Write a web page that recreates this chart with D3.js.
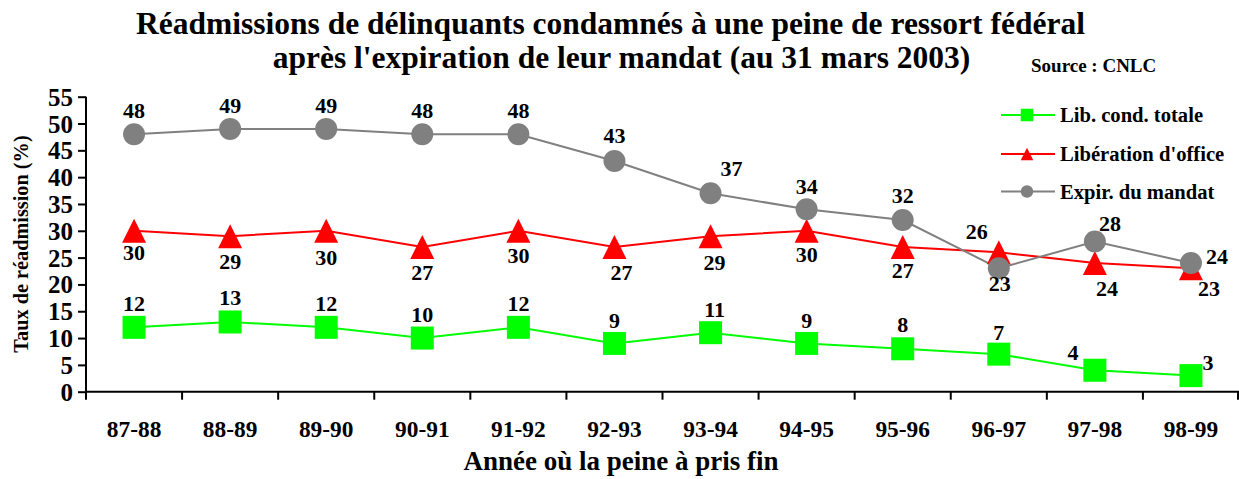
<!DOCTYPE html>
<html>
<head>
<meta charset="utf-8">
<script src="https://cdn.jsdelivr.net/npm/d3@7"></script>
<style>
  html, body { margin: 0; padding: 0; background: #fff; }
  svg { display: block; }
  text { font-family: "Liberation Serif", "Times New Roman", serif; font-weight: bold; fill: #000; }
</style>
</head>
<body>
<svg id="chart" width="1239" height="479"></svg>
<script>
// Fiscal years in which the sentence ended
const categories = ["87-88", "88-89", "89-90", "90-91", "91-92", "92-93", "93-94", "94-95", "95-96", "96-97", "97-98", "98-99"];

// Readmission rates (%) by release type
const libCond   = [12, 13, 12, 10, 12, 9, 11, 9, 8, 7, 4, 3];
const libOffice = [30, 29, 30, 27, 30, 27, 29, 30, 27, 26, 24, 23];
const expir     = [48, 49, 49, 48, 48, 43, 37, 34, 32, 23, 28, 24];

const yTicks = [0, 5, 10, 15, 20, 25, 30, 35, 40, 45, 50, 55];

// Label placement relative to each point [dx, dy]
const libCondLabelOffsets   = [[0,-24],[0,-25],[0,-24],[0,-24],[0,-24],[0,-23],[4,-23],[0,-23],[0,-24],[0,-22],[-22,-18],[17,-13]];
const libOfficeLabelOffsets = [[0,22],[0,25],[0,27],[0,25],[0,25],[7,25],[4,26],[0,24],[0,23],[-22,-21],[12,25],[18,20]];
const expirLabelOffsets     = [[0,-24],[0,-24],[0,-24],[0,-24],[0,-24],[0,-26],[21,-25],[0,-23],[0,-25],[1,15],[15,-18],[26,-7]];

const svg = d3.select("#chart");

const x = d3.scaleBand().domain(categories).range([86, 1239]);
const y = d3.scaleLinear().domain([0, 55]).range([391.7, 96.7]);
const cx = c => x(c) + x.bandwidth() / 2;

// Title
svg.append("text").attr("x", 610.5).attr("y", 34).attr("text-anchor", "middle")
  .style("font-size", "31.5px")
  .text("Réadmissions de délinquants condamnés à une peine de ressort fédéral");
svg.append("text").attr("x", 621.5).attr("y", 68).attr("text-anchor", "middle")
  .style("font-size", "31.5px")
  .text("après l'expiration de leur mandat (au 31 mars 2003)");
svg.append("text").attr("x", 1031).attr("y", 71.5)
  .style("font-size", "19px")
  .text("Source : CNLC");

// Horizontal axis: baseline with ticks at category boundaries
const gx = svg.append("g").attr("transform", `translate(0,${y(0)})`);
gx.append("line").attr("x1", 86).attr("x2", x.range()[1]).attr("stroke", "#000").attr("stroke-width", 2);
const bounds = categories.map(c => x(c)).concat([x.range()[1] - 1]);
gx.selectAll("line.bt").data(bounds).join("line").attr("class", "bt")
  .attr("x1", d => d).attr("x2", d => d).attr("y1", 0).attr("y2", 8)
  .attr("stroke", "#000").attr("stroke-width", 2);
gx.selectAll("text.cat").data(categories).join("text").attr("class", "cat")
  .attr("x", d => cx(d)).attr("y", 45).attr("text-anchor", "middle")
  .style("font-size", "23.4px").text(d => d);

// Vertical axis
const yAxis = d3.axisLeft(y).tickValues(yTicks).tickSize(8).tickPadding(5);
const gy = svg.append("g").attr("transform", "translate(86,0)").call(yAxis);
gy.select(".domain").attr("stroke", "#000").attr("stroke-width", 2).attr("d", `M0,${y(55)}V${y(0)}`);
gy.selectAll(".tick line").attr("stroke", "#000").attr("stroke-width", 2);
gy.selectAll(".tick text")
  .style("font-family", '"Liberation Serif", serif').style("font-weight", "bold")
  .style("font-size", "25px").attr("fill", "#000").attr("dy", "0.34em");

// Axis titles
svg.append("text").attr("transform", "translate(28,244) rotate(-90)").attr("text-anchor", "middle")
  .style("font-size", "20.3px").text("Taux de réadmission (%)");
svg.append("text").attr("x", 621).attr("y", 470).attr("text-anchor", "middle")
  .style("font-size", "27px").text("Année où la peine à pris fin");

const series = [
  { name: "Lib. cond. totale",     values: libCond,   color: "#00ff00", shape: "square",   offsets: libCondLabelOffsets },
  { name: "Libération d'office",   values: libOffice, color: "#ff0000", shape: "triangle", offsets: libOfficeLabelOffsets },
  { name: "Expir. du mandat",      values: expir,     color: "#808080", shape: "circle",   offsets: expirLabelOffsets }
];

const line = d3.line().x((d, i) => cx(categories[i])).y(d => y(d));

function drawMarker(g, shape, color, size) {
  if (shape === "square") {
    g.append("rect").attr("x", -size / 2).attr("y", -size / 2).attr("width", size).attr("height", size).attr("fill", color);
  } else if (shape === "triangle") {
    g.append("path").attr("d", `M0,${-size / 2}L${size / 2},${size / 2}L${-size / 2},${size / 2}Z`).attr("fill", color);
  } else {
    g.append("circle").attr("r", size / 2).attr("fill", color);
  }
}

series.forEach(s => {
  svg.append("path").datum(s.values).attr("d", line)
    .attr("fill", "none").attr("stroke", s.color).attr("stroke-width", 2);
});

series.forEach(s => {
  s.values.forEach((v, i) => {
    const g = svg.append("g").attr("transform", `translate(${cx(categories[i])},${y(v)})`);
    drawMarker(g, s.shape, s.color, s.shape === "triangle" ? 24 : (s.shape === "circle" ? 22 : 23));
  });
});

series.forEach(s => {
  s.values.forEach((v, i) => {
    const [dx, dy] = s.offsets[i];
    svg.append("text").attr("x", cx(categories[i]) + dx).attr("y", y(v) + dy)
      .attr("text-anchor", "middle").attr("dy", "0.35em")
      .style("font-size", "22px").text(v);
  });
});

// Legend
const legendY = [115, 154, 191.5];
series.forEach((s, i) => {
  const g = svg.append("g").attr("transform", `translate(1001,${legendY[i]})`);
  g.append("line").attr("x1", 0).attr("x2", 54).attr("stroke", s.color).attr("stroke-width", 2);
  const m = g.append("g").attr("transform", "translate(26,0)");
  drawMarker(m, s.shape, s.color, 12.5);
  g.append("text").attr("x", 59).attr("dy", "0.35em").style("font-size", "20.6px").text(s.name);
});
</script>
</body>
</html>
